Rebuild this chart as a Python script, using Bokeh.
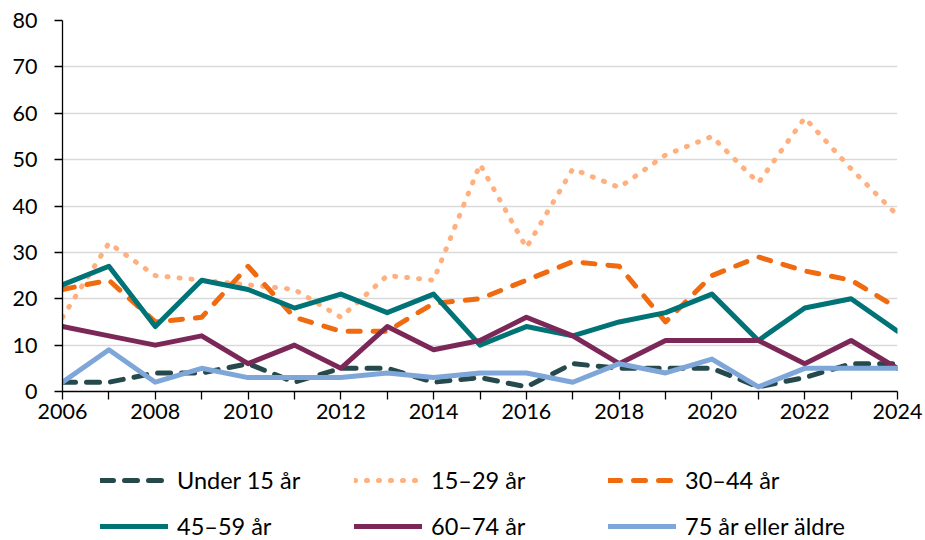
from bokeh.plotting import figure
from bokeh.layouts import column
from bokeh.models import Range1d, FixedTicker, Legend, LegendItem
from bokeh.embed import file_html
from bokeh.resources import INLINE

years = list(range(2006, 2025))
under15 = [2, 2, 4, 4, 6, 2, 5, 5, 2, 3, 1, 6, 5, 5, 5, 1, 3, 6, 6]
a15_29 = [16, 32, 25, 24, 23, 22, 16, 25, 24, 49, 31, 48, 44, 51, 55, 45, 59, 48, 38]
a30_44 = [22, 24, 15, 16, 27, 16, 13, 13, 19, 20, 24, 28, 27, 15, 25, 29, 26, 24, 18]
a45_59 = [23, 27, 14, 24, 22, 18, 21, 17, 21, 10, 14, 12, 15, 17, 21, 11, 18, 20, 13]
a60_74 = [14, 12, 10, 12, 6, 10, 5, 14, 9, 11, 16, 12, 6, 11, 11, 11, 6, 11, 5]
a75 = [2, 9, 2, 5, 3, 3, 3, 4, 3, 4, 4, 2, 6, 4, 7, 1, 5, 5, 5]

labels = ["Under 15 år", "15–29 år", "30–44 år", "45–59 år", "60–74 år", "75 år eller äldre"]
series = [under15, a15_29, a30_44, a45_59, a60_74, a75]
colors = ["#264A4C", "#FFB07E", "#F06A0F", "#007377", "#7B2858", "#7EA6D8"]
dashes = ["13 11", "1 11", "12 13", "solid", "solid", "solid"]

FONT = "Lato"

p = figure(width=925, height=440, x_range=Range1d(2006, 2024), y_range=Range1d(0, 80),
           output_backend="svg", toolbar_location=None,
           min_border_left=62, min_border_right=28, min_border_top=20, min_border_bottom=49)
p.outline_line_color = None
p.xgrid.grid_line_color = None
p.ygrid.grid_line_color = "#D9D9D9"
p.ygrid.grid_line_width = 1.3
p.yaxis.ticker = FixedTicker(ticks=list(range(0, 81, 10)))
p.xaxis.ticker = FixedTicker(ticks=years)
p.xaxis.major_label_overrides = {y: ("" if (y - 2006) % 2 else str(y)) for y in years}

for ax in (p.xaxis, p.yaxis):
    ax.axis_line_color = "black"
    ax.axis_line_width = 1.3
    ax.major_tick_line_color = "black"
    ax.major_tick_line_width = 1.3
    ax.major_tick_out = 8
    ax.major_tick_in = 0
    ax.minor_tick_line_color = None
    ax.major_label_text_font = FONT
    ax.major_label_text_font_size = "21.5px"
    ax.major_label_text_color = "black"
p.yaxis.major_label_standoff = 17
p.xaxis.major_label_standoff = 4

for ys, c, d in zip(series, colors, dashes):
    p.line(years, ys, line_color=c, line_width=5, line_dash=d,
           line_cap="round", line_join="round")

# legend figure below the chart (its ranges keep the proxy lines out of view)
lf = figure(width=925, height=100, x_range=Range1d(2006, 2024), y_range=Range1d(1000, 1001),
            output_backend="svg", toolbar_location=None,
            x_axis_type=None, y_axis_type=None,
            min_border_left=0, min_border_right=0, min_border_top=0, min_border_bottom=0)
lf.outline_line_color = None
lf.xgrid.grid_line_color = None
lf.ygrid.grid_line_color = None

items = []
for lab, ys, c, d in zip(labels, series, colors, dashes):
    r = lf.line(years, ys, line_color=c, line_width=5, line_dash=d,
                line_cap="round", line_join="round")
    items.append(LegendItem(label=lab, renderers=[r]))

legend = Legend(items=items, ncols=3, orientation="horizontal",
                location=(38, 0), padding=0, margin=0, spacing=18,
                glyph_width=68, glyph_height=26, label_height=26, label_width=159,
                label_standoff=9, label_text_font=FONT, label_text_font_size="23.5px",
                label_text_color="black", background_fill_alpha=0, border_line_alpha=0)
lf.add_layout(legend, "center")

layout = column(p, lf, spacing=0)
open("out.html", "w").write(file_html(layout, INLINE))
